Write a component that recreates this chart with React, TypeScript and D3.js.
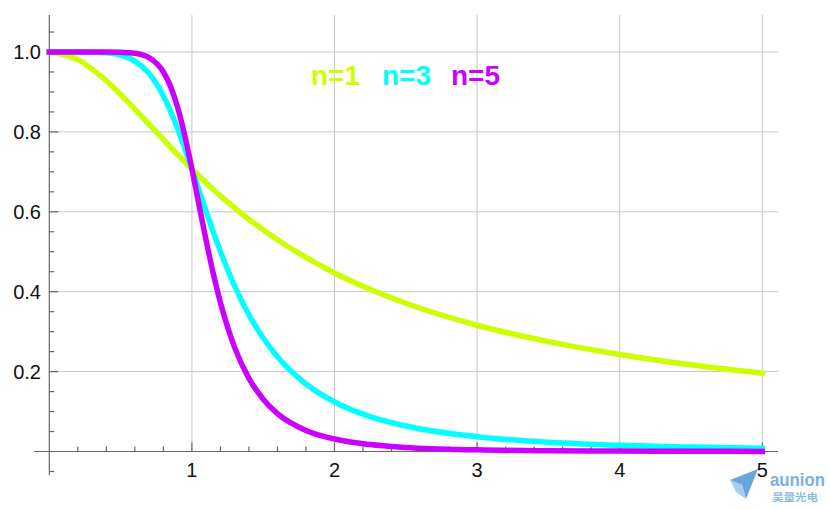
import React, { useRef, useEffect } from 'react';
import * as d3 from 'd3';

// sample positions along the frequency axis (normalised, w / wc)
const xs = [0, 0.2, 0.4, 0.5, 0.6, 0.7, 0.8, 0.85, 0.9, 0.95, 1, 1.05, 1.1, 1.15, 1.2, 1.3, 1.4, 1.5, 1.6, 1.8, 2, 2.25, 2.5, 3, 3.5, 4, 4.5, 5];

const n1 = [1, 0.981, 0.928, 0.894, 0.857, 0.819, 0.781, 0.762, 0.743, 0.725, 0.707, 0.69, 0.673, 0.656, 0.64, 0.61, 0.581, 0.555, 0.53, 0.486, 0.447, 0.406, 0.371, 0.316, 0.275, 0.243, 0.217, 0.196];
const n3 = [1, 1, 0.998, 0.992, 0.977, 0.946, 0.89, 0.852, 0.808, 0.759, 0.707, 0.654, 0.601, 0.549, 0.501, 0.414, 0.342, 0.284, 0.237, 0.169, 0.124, 0.0875, 0.0639, 0.037, 0.0233, 0.0156, 0.011, 0.008];
const n5 = [1, 1, 1, 0.9995, 0.997, 0.986, 0.95, 0.914, 0.861, 0.791, 0.707, 0.617, 0.528, 0.445, 0.373, 0.26, 0.183, 0.131, 0.0949, 0.0528, 0.0312, 0.0173, 0.0102, 0.0041, 0.0019, 0.001, 0.0005, 0.0003];

const seriesNames = ['n=1', 'n=3', 'n=5'];
const seriesColors = ['#ccff00', '#00ffff', '#cc00ff'];

const xTickLabels = [1, 2, 3, 4, 5];
const yTickLabels = [0.2, 0.4, 0.6, 0.8, 1.0];

const W = 830;
const H = 509;

const App: React.FC = () => {
    const ref = useRef<SVGSVGElement>(null);

    useEffect(() => {
        if (!ref.current) return;
        const svg = d3.select(ref.current);
        svg.selectAll('*').remove();

        const x = d3.scaleLinear().domain([0, 5]).range([49.3, 762.3]);
        const y = d3.scaleLinear().domain([0, 1]).range([451.5, 52]);

        const grid = '#c8c8c8';
        const axisCol = '#666666';

        // grid
        svg.append('g').selectAll('line')
            .data(xTickLabels)
            .enter().append('line')
            .attr('x1', d => x(d)).attr('x2', d => x(d))
            .attr('y1', 15).attr('y2', y(0))
            .attr('stroke', grid).attr('stroke-width', 1);
        svg.append('g').selectAll('line')
            .data(yTickLabels)
            .enter().append('line')
            .attr('x1', x(0)).attr('x2', 778)
            .attr('y1', d => y(d)).attr('y2', d => y(d))
            .attr('stroke', grid).attr('stroke-width', 1);

        // axes
        const ax = svg.append('g').attr('stroke', axisCol).attr('stroke-width', 1.2);
        ax.append('line').attr('x1', x(0)).attr('x2', x(0)).attr('y1', 15).attr('y2', 475);
        ax.append('line').attr('x1', 34).attr('x2', 778).attr('y1', y(0)).attr('y2', y(0));

        const yTicks = d3.range(-1, 22).map(i => i * 0.05).filter(v => Math.abs(v) > 1e-6);
        ax.selectAll('.yt').data(yTicks).enter().append('line')
            .attr('x1', x(0))
            .attr('x2', d => x(0) + (Math.abs(d * 5 - Math.round(d * 5)) < 1e-6 ? 9 : 5))
            .attr('y1', d => y(d)).attr('y2', d => y(d));

        const xTicks = d3.range(1, 26).map(i => i * 0.2);
        ax.selectAll('.xt').data(xTicks).enter().append('line')
            .attr('x1', d => x(d)).attr('x2', d => x(d))
            .attr('y1', y(0))
            .attr('y2', d => y(0) - (Math.abs(d - Math.round(d)) < 1e-6 ? 9 : 5));

        const font = 'Liberation Sans, Arial, sans-serif';
        svg.append('g').selectAll('text')
            .data(yTickLabels)
            .enter().append('text')
            .attr('x', 41).attr('y', d => y(d) + 7)
            .attr('text-anchor', 'end')
            .attr('font-family', font).attr('font-size', 20)
            .attr('fill', '#111')
            .text(d => d.toFixed(1));
        svg.append('g').selectAll('text')
            .data(xTickLabels)
            .enter().append('text')
            .attr('x', d => x(d)).attr('y', 476.5)
            .attr('text-anchor', 'middle')
            .attr('font-family', font).attr('font-size', 20)
            .attr('fill', '#111')
            .text(d => String(d));

        // curves
        const line = d3.line<number>()
            .x((_, i) => x(xs[i]))
            .y(d => y(d))
            .curve(d3.curveMonotoneX);
        [n1, n3, n5].forEach((s, i) => {
            svg.append('path')
                .attr('d', line(s))
                .attr('fill', 'none')
                .attr('stroke', seriesColors[i])
                .attr('stroke-width', 5.5)
                .attr('stroke-linecap', 'square');
        });

        // legend
        const legendX = [311, 382, 451];
        svg.append('g').selectAll('text')
            .data(seriesNames)
            .enter().append('text')
            .attr('x', (_, i) => legendX[i]).attr('y', 85)
            .attr('font-family', font).attr('font-size', 28).attr('font-weight', 'bold')
            .attr('fill', (_, i) => seriesColors[i])
            .text(d => d);

        // watermark (kept clear of the "5" tick label)
        const wm = svg.append('g').attr('opacity', 0.9);
        wm.append('path').attr('d', 'M730,480 L758,469 L746,499 L742,485 Z').attr('fill', '#5b9bd5');
        wm.append('path').attr('d', 'M730,480 L742,485 L746,499 L736,492 Z').attr('fill', '#9cc8ea');
        wm.append('text').attr('x', 770).attr('y', 486)
            .attr('font-family', font).attr('font-size', 18).attr('font-weight', 'bold')
            .attr('textLength', 55).attr('lengthAdjust', 'spacingAndGlyphs')
            .attr('fill', '#6ea8dc').text('aunion');
        wm.append('text').attr('x', 772).attr('y', 501)
            .attr('font-family', 'Noto Sans CJK SC').attr('font-size', 10).attr('font-weight', 'bold')
            .attr('textLength', 46).attr('lengthAdjust', 'spacingAndGlyphs')
            .attr('fill', '#7fb2e0').text('昊量光电');
    }, []);

    return (
        <svg
            ref={ref}
            width={W}
            height={H}
            style={{ position: 'absolute', left: 0, top: 0, background: '#fff' }}
        />
    );
};

export default App;
